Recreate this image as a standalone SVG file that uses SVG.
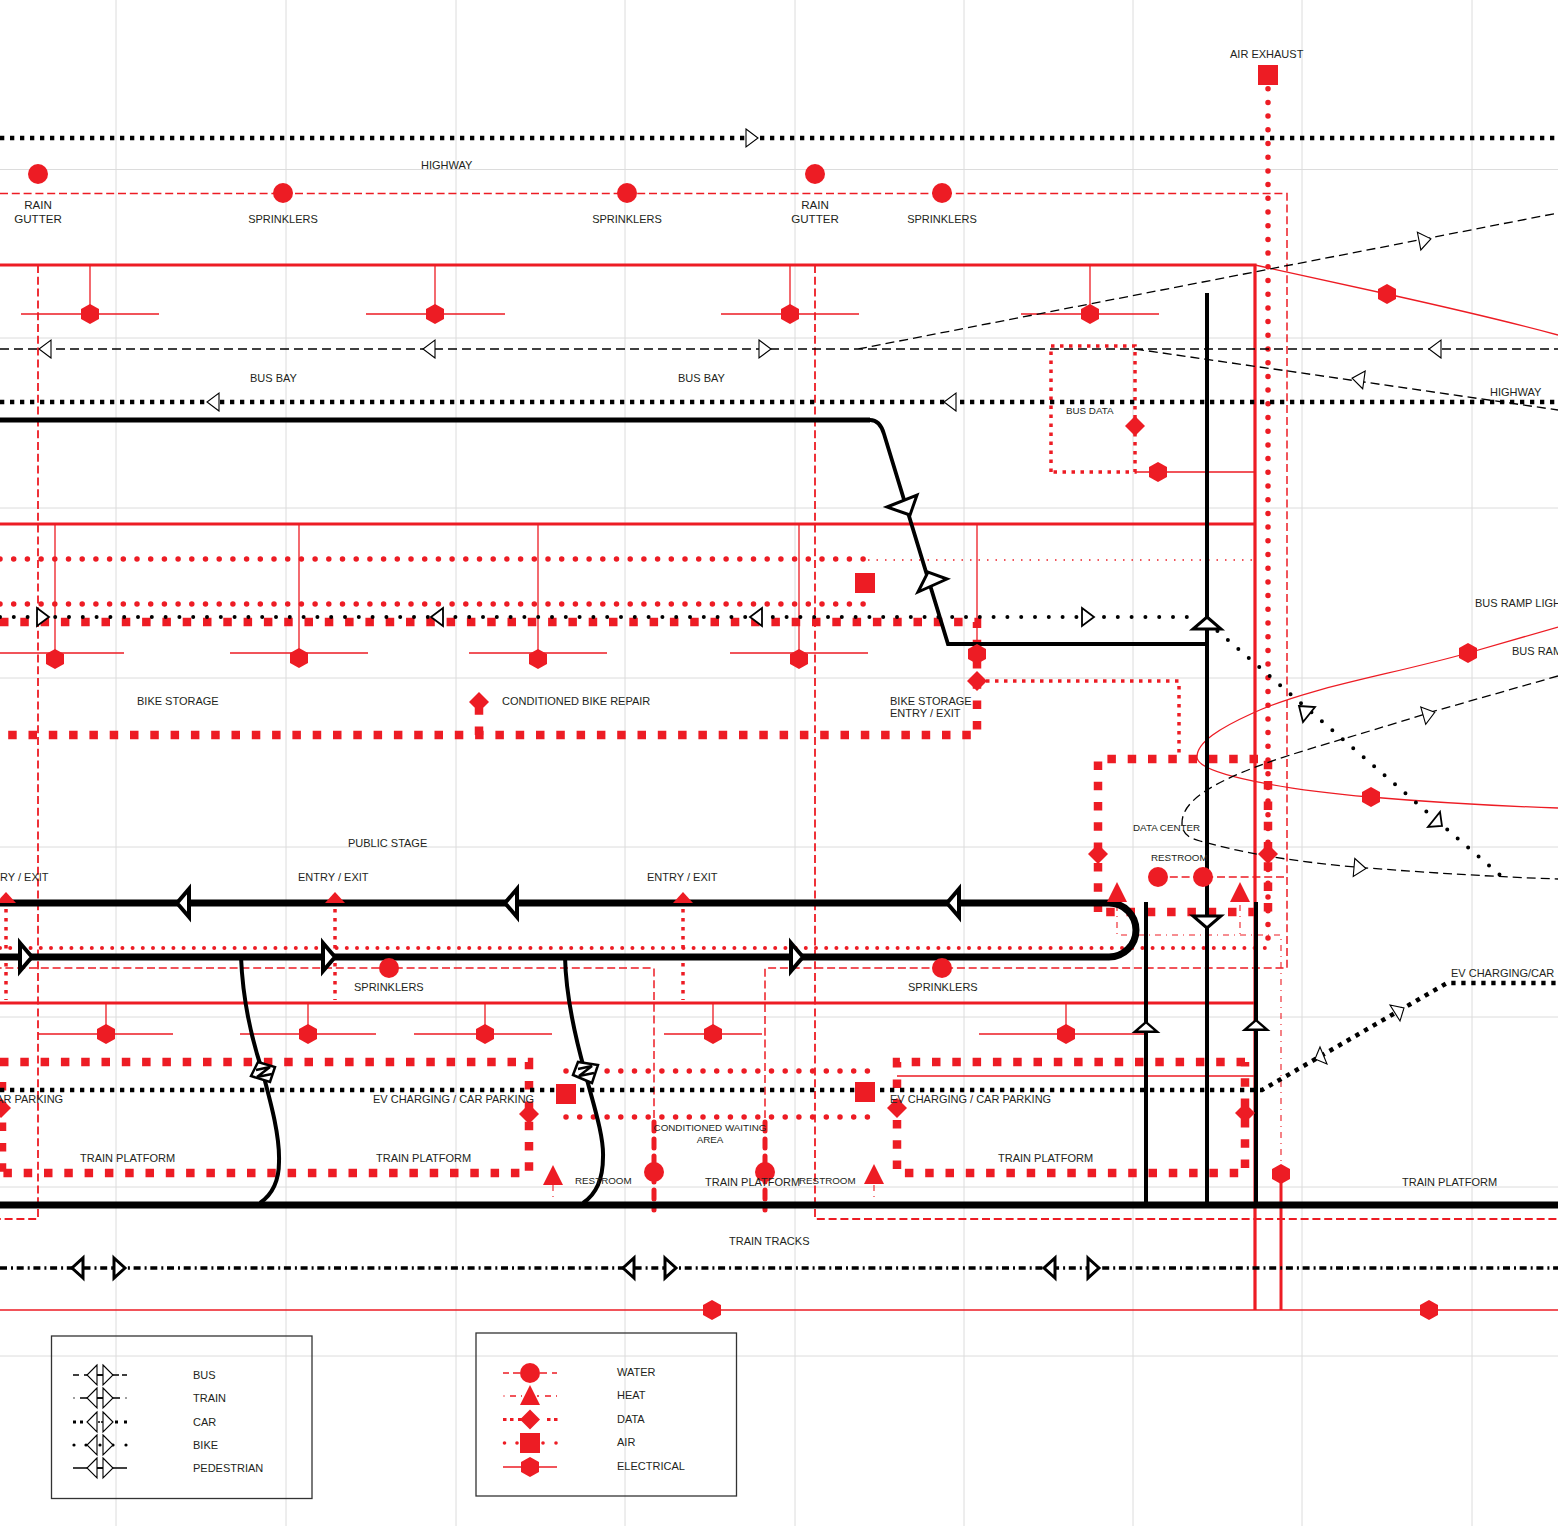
<svg xmlns="http://www.w3.org/2000/svg" width="1558" height="1526" viewBox="0 0 1558 1526">
<style>
text{font-family:"Liberation Sans",Arial,sans-serif;font-size:11px;fill:#231f20}
.s{font-size:9.800px}
.g{font-size:11.600px}
.m{text-anchor:middle}
line,path,polyline{fill:none}
.grid{stroke:#dcdcdc;stroke-width:1}
.wall{stroke:#ed1c24;stroke-width:3.200}
.water{stroke:#ed1c24;stroke-width:1.500;stroke-dasharray:8 3.800}
.waterB{stroke:#ed1c24;stroke-width:1.800;stroke-dasharray:8 3.800}
.waterH{stroke:#ed1c24;stroke-width:5;stroke-dasharray:9 8;stroke-linecap:round}
.air{stroke:#ed1c24;stroke-width:5.500;stroke-dasharray:0 13.700;stroke-linecap:round}
.airS{stroke:#ed1c24;stroke-width:4;stroke-dasharray:0 10.200;stroke-linecap:round}
.airT{stroke:#ed1c24;stroke-width:1.500;stroke-dasharray:1.500 7}
.dataB{stroke:#ed1c24;stroke-width:8.500;stroke-dasharray:8.500 11.800}
.dataS{stroke:#ed1c24;stroke-width:3.500;stroke-dasharray:3.500 5.500}
.elec{stroke:#ed1c24;stroke-width:1.300}
.elecB{stroke:#ed1c24;stroke-width:3}
.heat{stroke:#ed1c24;stroke-width:1.100;stroke-dasharray:6 5 1 5}
.bus{stroke:#000;stroke-width:1.300;stroke-dasharray:9 5}
.car{stroke:#000;stroke-width:4.500;stroke-dasharray:4.300 5.700}
.bike{stroke:#000;stroke-width:4;stroke-dasharray:0 13.800;stroke-linecap:round}
.train{stroke:#000;stroke-width:3.500;stroke-dasharray:7 4 2 3.700}
.ped{stroke:#000;stroke-width:4}
.pedM{stroke:#000;stroke-width:3.800}
.road{stroke:#000;stroke-width:7}
.l{stroke:#000;stroke-width:1.500}
.lr{stroke:#ed1c24;stroke-width:1.700}
.t1{fill:#fff;stroke:#000;stroke-width:1.100}
.t2{fill:#fff;stroke:#000;stroke-width:1.800}
.t3{fill:#fff;stroke:#000;stroke-width:3}
.t4{fill:#fff;stroke:#000;stroke-width:4}
.r{fill:#ed1c24}
.boxn{fill:none;stroke:#333;stroke-width:1.300}
</style>
<defs>
<polygon id="hex" class="r" points="0,-10 9,-5 9,5 0,10 -9,5 -9,-5"/>
<polygon id="dia" class="r" points="0,-10 10,0 0,10 -10,0"/>
<polygon id="tri" class="r" points="0,-11 10,9 -10,9"/>
<rect id="sq" class="r" x="-10" y="-10" width="20" height="20"/>
<circle id="cir" class="r" r="10"/>
<polygon id="ar" points="-6,-9 6,0 -6,9"/>
<polygon id="arB" points="-6,-14 6,0 -6,14"/>
<polygon id="arU" points="0,-6 14,6 -14,6"/>
<polygon id="arT" points="-5,-10 6,0 -5,10"/>
<g id="legarrow"><polygon class="t1" points="97,-10 87,0 97,10"/><polygon class="t1" points="103,-10 113,0 103,10"/></g>
</defs>

<g id="grid">
<path class="grid" d="M116 0V1526M286 0V1526M456 0V1526M625 0V1526M795 0V1526M964 0V1526M1133 0V1526M1302 0V1526M1472 0V1526M0 169.500H1558M0 338H1558M0 508H1558M0 678H1558M0 847H1558M0 1017H1558M0 1187H1558M0 1356H1558"/>
</g>

<g id="connectors">
<g id="walls">
<path class="wall" d="M0 265H1255V1310M0 524H1255M0 1003H1255"/>
</g>
<g id="water-lines">
<path class="water" d="M0 193.500H1287V968H765V1118M654 1118V968H0"/>
<path class="waterB" d="M38 265V1219H0M815 265V1219H1558"/>
<path class="water" d="M1158 877H1287"/>
<path class="waterH" d="M654 1122V1210M765 1122V1210"/>
</g>
<g id="air-lines">
<path class="air" d="M1268 75V948"/>
<path class="airS" d="M0 948H1268"/>
<path class="air" d="M0 559H868M0 604H868M566 1071H868M566 1117H868"/>
<path class="airT" d="M868 560H1255"/>
</g>
<g id="data-lines">
<path class="dataB" d="M0 622H977V735H0"/>
<path class="dataB" d="M479 735V708"/>
<path class="dataS" d="M977 681H1179V758M1051 472V346H1135V472H1051"/>
<path class="dataB" d="M1098 912V759H1268V912H1098"/>
<path class="dataS" d="M6 900V1000M335 900V1000M683 900V1000"/>
<path class="dataB" d="M0 1062H529V1173H0M2 1082V1173M1245 1062H897V1173H1245V1062"/>
</g>
<g id="heat-lines">
<path class="heat" d="M1117 905V935H1281V1165M1240 905V935M553 1185V1205M874 1185V1205"/>
</g>
<g id="electrical-lines">
<path class="elec" d="M90 265V314M21 314H159M435 265V314M366 314H505M790 265V314M721 314H859M1090 265V314M1021 314H1159"/>
<path class="elec" d="M55 524V659M0 653H124M299 524V659M230 653H368M538 524V659M469 653H607M799 524V659M730 653H868M977 524V654"/>
<path class="elec" d="M106 1003V1034M38 1034H173M308 1003V1034M240 1034H376M485 1003V1034M414 1034H552M713 1003V1034M664 1034H762M1066 1003V1034M979 1034H1147M897 1076H1255"/>
<path class="elec" d="M1135 472H1255M0 1310H1558M1255 265L1387 294C1450 308 1510 322 1558 335"/>
<path class="elec" d="M1558 627L1468 653C1390 675 1310 687 1253 713C1220 728 1197 742 1197 757C1197 775 1290 790 1370 797C1440 803 1500 806 1558 808"/>
<path class="elecB" d="M1281 1174V1310"/>
</g>
<g id="bus-lines">
<path class="bus" d="M0 349H1558M858 349L1558 213M1135 349L1558 410"/>
<path class="bus" d="M1558 676L1428 713C1350 738 1300 750 1253 768C1215 783 1182 800 1182 823C1182 835 1190 838 1200 841C1250 855 1300 862 1355 867C1430 873 1500 877 1558 879"/>
</g>
<g id="car-lines">
<path class="car" d="M0 138H1558M0 402H1558M0 1090H1262L1447 983H1558"/>
</g>
<g id="bike-lines">
<path class="bike" d="M0 617H1200M1207 622L1500 875"/>
</g>
<g id="train-lines">
<path class="train" d="M0 1268H1558"/>
</g>
<g id="pedestrian-lines">
<path class="road" d="M0 420H870" style="stroke-width:5"/>
<path class="pedM" d="M870 420Q880 420 884 434L948 644H1207"/>
<path class="ped" d="M1207 293V1206M1146 902V1206M1256 902V1206"/>
<path class="ped" d="M241 957C243 1005 252 1040 262 1070C270 1100 280 1135 279 1162C279 1185 270 1196 260 1203"/>
<path class="ped" d="M565 957C566 1000 576 1040 585 1072C592 1100 604 1135 603 1157C603 1180 595 1195 583 1203"/>
<path class="road" d="M0 903H1109A27 27 0 0 1 1109 957H0"/>
<path class="road" d="M0 1205H1558"/>
</g>
</g>

<g id="arrows">
<use href="#ar" class="t1" transform="translate(752 138)"/>
<use href="#ar" class="t1" transform="translate(45 349) rotate(180)"/>
<use href="#ar" class="t1" transform="translate(429 349) rotate(180)"/>
<use href="#ar" class="t1" transform="translate(765 349)"/>
<use href="#ar" class="t1" transform="translate(1435 349) rotate(180)"/>
<use href="#ar" class="t1" transform="translate(1425 240) rotate(-11)"/>
<use href="#ar" class="t1" transform="translate(1358 379) rotate(188)"/>
<use href="#ar" class="t1" transform="translate(1429 714) rotate(-16)"/>
<use href="#ar" class="t1" transform="translate(1360 868) rotate(5)"/>
<use href="#ar" class="t1" transform="translate(213 402) rotate(180)"/>
<use href="#ar" class="t1" transform="translate(950 402) rotate(180)"/>
<use href="#ar" class="t2" transform="translate(43 617)"/>
<use href="#ar" class="t2" transform="translate(437 617) rotate(180)"/>
<use href="#ar" class="t2" transform="translate(756 617) rotate(180)"/>
<use href="#ar" class="t2" transform="translate(1088 617)"/>
<polygon class="t2" points="1299,706 1315,707 1303,722"/>
<polygon class="t2" points="1440,812 1442,826 1428,827"/>
<polygon class="t1" points="1390,1005 1404,1008 1400,1021"/>
<polygon class="t1" points="1315,1059 1320,1047 1327,1064"/>
<use href="#arB" class="t4" transform="translate(183 903) rotate(180)"/>
<use href="#arB" class="t4" transform="translate(511 903) rotate(180)"/>
<use href="#arB" class="t4" transform="translate(953 903) rotate(180)"/>
<use href="#arB" class="t4" transform="translate(26 957)"/>
<use href="#arB" class="t4" transform="translate(329 957)"/>
<use href="#arB" class="t4" transform="translate(797 957)"/>
<use href="#arU" class="t3" transform="translate(1207 623)"/>
<use href="#arU" class="t3" transform="translate(1207 922) rotate(180)"/>
<use href="#arU" class="t3" transform="translate(1146 1027) scale(.8)"/>
<use href="#arU" class="t3" transform="translate(1256 1025) scale(.8)"/>
<polygon class="t3" points="887,507 917,495 910,515"/>
<polygon class="t3" points="918,592 928,572 947,579"/>
<use href="#arT" class="t3" transform="translate(78 1268) rotate(180)"/>
<use href="#arT" class="t3" transform="translate(119 1268)"/>
<use href="#arT" class="t3" transform="translate(629 1268) rotate(180)"/>
<use href="#arT" class="t3" transform="translate(670 1268)"/>
<use href="#arT" class="t3" transform="translate(1050 1268) rotate(180)"/>
<use href="#arT" class="t3" transform="translate(1093 1268)"/>
<g id="zigzag-1">
<polygon class="t2" style="stroke-width:2.500" points="251,1076 258,1062 275,1067 270,1082"/>
<path stroke="#000" stroke-width="2.500" d="M256 1070L270 1067L257 1077L272 1074"/>
</g>
<g id="zigzag-2">
<polygon class="t2" style="stroke-width:2.500" points="573,1075 578,1062 598,1065 592,1083"/>
<path stroke="#000" stroke-width="2.500" d="M578 1069L592 1066L579 1076L594 1073"/>
</g>
</g>

<g id="nodes">
<use href="#sq" x="1268" y="75"/><use href="#sq" x="865" y="583"/><use href="#sq" x="566" y="1094"/><use href="#sq" x="865" y="1092"/>
<use href="#cir" x="38" y="174"/><use href="#cir" x="815" y="174"/><use href="#cir" x="283" y="193"/><use href="#cir" x="627" y="193"/><use href="#cir" x="942" y="193"/>
<use href="#cir" x="389" y="968"/><use href="#cir" x="942" y="968"/><use href="#cir" x="654" y="1172"/><use href="#cir" x="765" y="1172"/><use href="#cir" x="1158" y="877"/><use href="#cir" x="1203" y="877"/>
<use href="#hex" x="90" y="314"/><use href="#hex" x="435" y="314"/><use href="#hex" x="790" y="314"/><use href="#hex" x="1090" y="314"/><use href="#hex" x="1387" y="294"/>
<use href="#hex" x="1158" y="472"/><use href="#hex" x="55" y="659"/><use href="#hex" x="299" y="658"/><use href="#hex" x="538" y="659"/><use href="#hex" x="799" y="659"/><use href="#hex" x="977" y="654"/>
<use href="#hex" x="1468" y="653"/><use href="#hex" x="1371" y="797"/>
<use href="#hex" x="106" y="1034"/><use href="#hex" x="308" y="1034"/><use href="#hex" x="485" y="1034"/><use href="#hex" x="713" y="1034"/><use href="#hex" x="1066" y="1034"/>
<use href="#hex" x="1281" y="1174"/><use href="#hex" x="712" y="1310"/><use href="#hex" x="1429" y="1310"/>
<use href="#dia" x="1135" y="426"/><use href="#dia" x="977" y="681"/><use href="#dia" x="479" y="702"/><use href="#dia" x="1098" y="854"/><use href="#dia" x="1268" y="854"/>
<use href="#dia" x="529" y="1114"/><use href="#dia" x="897" y="1108"/><use href="#dia" x="1245" y="1113"/><use href="#dia" x="1" y="1108"/>
<polygon class="r" points="6,892 16,903 -4,903"/><polygon class="r" points="335,892 345,903 325,903"/><polygon class="r" points="683,892 693,903 673,903"/>
<use href="#tri" x="1117" y="893"/><use href="#tri" x="1240" y="893"/><use href="#tri" x="553" y="1176"/><use href="#tri" x="874" y="1175"/>
</g>

<g id="labels">
<text x="1230" y="58">AIR EXHAUST</text>
<text x="421" y="169">HIGHWAY</text>
<text x="38" y="209" class="m g">RAIN</text><text x="38" y="223" class="m g">GUTTER</text>
<text x="815" y="209" class="m g">RAIN</text><text x="815" y="223" class="m g">GUTTER</text>
<text x="283" y="223" class="m">SPRINKLERS</text><text x="627" y="223" class="m">SPRINKLERS</text><text x="942" y="223" class="m">SPRINKLERS</text>
<text x="250" y="382">BUS BAY</text><text x="678" y="382">BUS BAY</text>
<text x="1490" y="396">HIGHWAY</text>
<text x="1066" y="414" class="s">BUS DATA</text>
<text x="1475" y="607">BUS RAMP LIGHT</text><text x="1512" y="655">BUS RAMP</text>
<text x="137" y="705">BIKE STORAGE</text><text x="502" y="705">CONDITIONED BIKE REPAIR</text>
<text x="890" y="705">BIKE STORAGE</text><text x="890" y="717">ENTRY / EXIT</text>
<text x="1133" y="831" class="s">DATA CENTER</text><text x="1151" y="861" class="s">RESTROOM</text>
<text x="348" y="847">PUBLIC STAGE</text>
<text x="-22" y="881">ENTRY / EXIT</text><text x="298" y="881">ENTRY / EXIT</text><text x="647" y="881">ENTRY / EXIT</text>
<text x="354" y="991">SPRINKLERS</text><text x="908" y="991">SPRINKLERS</text>
<text x="1451" y="977">EV CHARGING/CAR</text>
<text x="-98" y="1103">EV CHARGING / CAR PARKING</text><text x="373" y="1103">EV CHARGING / CAR PARKING</text><text x="890" y="1103">EV CHARGING / CAR PARKING</text>
<text x="710" y="1131" class="s m">CONDITIONED WAITING</text><text x="710" y="1143" class="s m">AREA</text>
<text x="80" y="1162">TRAIN PLATFORM</text><text x="376" y="1162">TRAIN PLATFORM</text><text x="998" y="1162">TRAIN PLATFORM</text>
<text x="705" y="1186">TRAIN PLATFORM</text><text x="1402" y="1186">TRAIN PLATFORM</text>
<text x="575" y="1184" class="s">RESTROOM</text><text x="799" y="1184" class="s">RESTROOM</text>
<text x="729" y="1245">TRAIN TRACKS</text>
</g>

<g id="legend-modes">
<rect class="boxn" x="51.500" y="1336" width="260.500" height="162.500"/>
<path class="l" d="M73 1375H79M84 1375H91M97 1375H103M109 1375H119M122 1375H127"/>
<path class="l" d="M73.500 1398H74.500M80 1398H91M97 1398H103M109 1398H120M125.500 1398H126.500"/>
<path stroke="#000" stroke-width="3" d="M73 1422H76M80 1422H83M115 1422H118M124 1422H127"/>
<path stroke="#000" stroke-width="1.500" d="M98 1422H100M101 1422H103"/>
<circle cx="74" cy="1445" r="1.600"/><circle cx="86" cy="1445" r="1.600"/><circle cx="100" cy="1445" r="1.600"/><circle cx="113" cy="1445" r="1.600"/><circle cx="126" cy="1445" r="1.600"/>
<path class="l" d="M73 1468H127"/>
<use href="#legarrow" y="1375"/><use href="#legarrow" y="1398"/><use href="#legarrow" y="1422"/><use href="#legarrow" y="1445"/><use href="#legarrow" y="1468"/>
<path class="l" d="M97 1375H103M97 1398H103M97 1468H103"/>
<text x="193" y="1379">BUS</text><text x="193" y="1402">TRAIN</text><text x="193" y="1426">CAR</text><text x="193" y="1449">BIKE</text><text x="193" y="1472">PEDESTRIAN</text>
</g>

<g id="legend-systems">
<rect class="boxn" x="476" y="1333" width="260.500" height="163"/>
<path class="lr" d="M503 1373H509M513 1373H520M540 1373H547M552 1373H557"/>
<path class="lr" d="M503.500 1396H504.500M510 1396H516M521 1396H522M537 1396H539M545 1396H551M556 1396H557"/>
<path stroke="#ed1c24" stroke-width="3.200" d="M503 1419.500H506.500M510 1419.500H513.500M518 1419.500H522M547 1419.500H550.500M554 1419.500H557.500"/>
<circle class="r" cx="504.500" cy="1443" r="1.800"/><circle class="r" cx="517" cy="1443" r="1.800"/><circle class="r" cx="543" cy="1443" r="1.800"/><circle class="r" cx="556" cy="1443" r="1.800"/>
<path class="lr" d="M503 1467H557"/>
<use href="#cir" x="530" y="1373"/><use href="#tri" x="530" y="1396"/><use href="#dia" x="530" y="1419.500"/><use href="#sq" x="530" y="1443"/><use href="#hex" x="530" y="1467"/>
<text x="617" y="1376">WATER</text><text x="617" y="1399">HEAT</text><text x="617" y="1423">DATA</text><text x="617" y="1446">AIR</text><text x="617" y="1470">ELECTRICAL</text>
</g>
</svg>
